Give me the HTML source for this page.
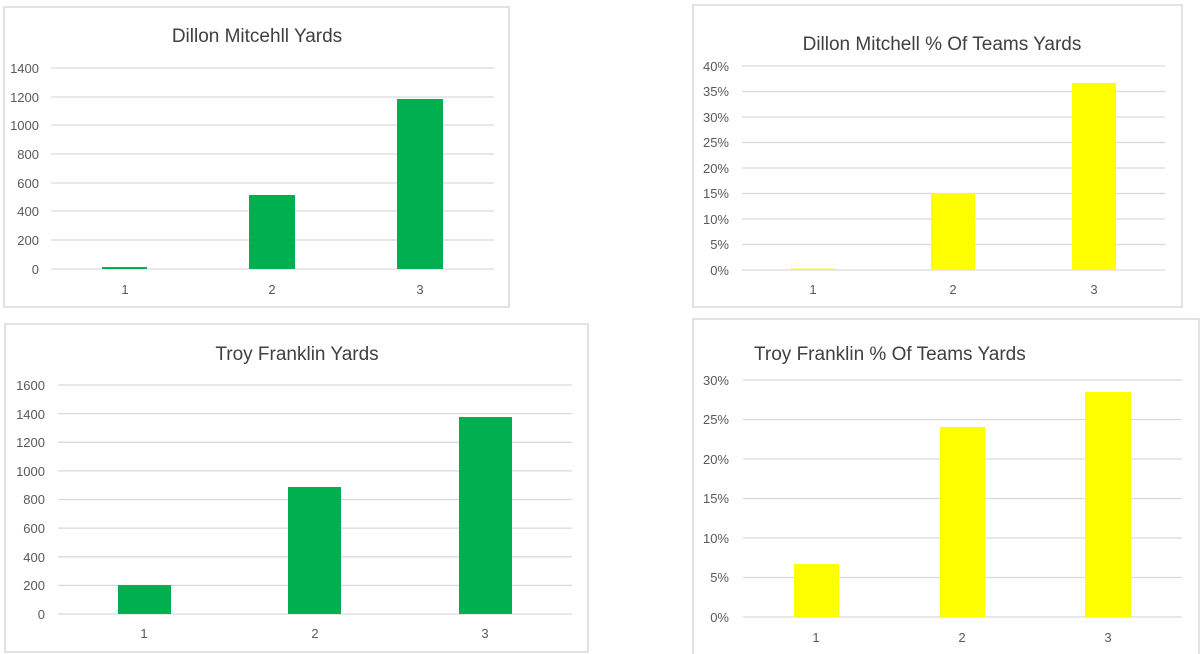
<!DOCTYPE html>
<html><head><meta charset="utf-8"><style>
html,body{margin:0;padding:0;background:#fff;}
svg{display:block;}
text{font-family:"Liberation Sans",sans-serif;fill:#595959;}
.t{font-size:13px;}
.ti{font-size:19px;fill:#404040;}
.g{stroke:#d9d9d9;stroke-width:1.3;}
.b{fill:#fff;stroke:#d9d9d9;stroke-width:1.5;}
</style></head><body>
<svg width="1200" height="654" viewBox="0 0 1200 654">
<!-- Chart 1 -->
<rect class="b" x="4" y="7" width="505" height="300"/>
<text class="ti" x="257" y="42" text-anchor="middle">Dillon Mitcehll Yards</text>
<g class="g">
<line x1="51" x2="494" y1="68" y2="68"/><line x1="51" x2="494" y1="97" y2="97"/><line x1="51" x2="494" y1="125" y2="125"/><line x1="51" x2="494" y1="154" y2="154"/><line x1="51" x2="494" y1="183" y2="183"/><line x1="51" x2="494" y1="211" y2="211"/><line x1="51" x2="494" y1="240" y2="240"/><line x1="51" x2="494" y1="269" y2="269"/>
</g>
<g class="t" text-anchor="end">
<text x="39" y="73">1400</text><text x="39" y="102">1200</text><text x="39" y="130">1000</text><text x="39" y="159">800</text><text x="39" y="188">600</text><text x="39" y="216">400</text><text x="39" y="245">200</text><text x="39" y="274">0</text>
</g>
<g fill="#00b050"><rect x="102" y="267" width="45" height="2"/><rect x="249" y="195" width="46" height="74"/><rect x="397" y="99" width="46" height="170"/></g>
<g class="t" text-anchor="middle"><text x="125" y="294">1</text><text x="272" y="294">2</text><text x="420" y="294">3</text></g>

<!-- Chart 2 -->
<rect class="b" x="693" y="5" width="489" height="302"/>
<text class="ti" x="942" y="50" text-anchor="middle">Dillon Mitchell % Of Teams Yards</text>
<g class="g">
<line x1="742" x2="1165" y1="66" y2="66"/><line x1="742" x2="1165" y1="91.5" y2="91.5"/><line x1="742" x2="1165" y1="117" y2="117"/><line x1="742" x2="1165" y1="142.5" y2="142.5"/><line x1="742" x2="1165" y1="168" y2="168"/><line x1="742" x2="1165" y1="193.5" y2="193.5"/><line x1="742" x2="1165" y1="219" y2="219"/><line x1="742" x2="1165" y1="244.5" y2="244.5"/><line x1="742" x2="1165" y1="270" y2="270"/>
</g>
<g class="t" text-anchor="end">
<text x="729" y="71">40%</text><text x="729" y="96">35%</text><text x="729" y="122">30%</text><text x="729" y="147">25%</text><text x="729" y="173">20%</text><text x="729" y="198">15%</text><text x="729" y="224">10%</text><text x="729" y="249">5%</text><text x="729" y="275">0%</text>
</g>
<g fill="#ffff00"><rect x="791" y="268.5" width="44" height="1.5"/><rect x="931" y="193" width="44" height="77"/><rect x="1072" y="83" width="44" height="187"/></g>
<g class="t" text-anchor="middle"><text x="813" y="294">1</text><text x="953" y="294">2</text><text x="1094" y="294">3</text></g>

<!-- Chart 3 -->
<rect class="b" x="5" y="324" width="583" height="328"/>
<text class="ti" x="297" y="360" text-anchor="middle">Troy Franklin Yards</text>
<g class="g">
<line x1="58" x2="572" y1="385" y2="385"/><line x1="58" x2="572" y1="413.6" y2="413.6"/><line x1="58" x2="572" y1="442.3" y2="442.3"/><line x1="58" x2="572" y1="470.9" y2="470.9"/><line x1="58" x2="572" y1="499.5" y2="499.5"/><line x1="58" x2="572" y1="528.1" y2="528.1"/><line x1="58" x2="572" y1="556.8" y2="556.8"/><line x1="58" x2="572" y1="585.4" y2="585.4"/><line x1="58" x2="572" y1="614" y2="614"/>
</g>
<g class="t" text-anchor="end">
<text x="45" y="390">1600</text><text x="45" y="419">1400</text><text x="45" y="447">1200</text><text x="45" y="476">1000</text><text x="45" y="504">800</text><text x="45" y="533">600</text><text x="45" y="562">400</text><text x="45" y="590">200</text><text x="45" y="619">0</text>
</g>
<g fill="#00b050"><rect x="118" y="585" width="53" height="29"/><rect x="288" y="487" width="53" height="127"/><rect x="459" y="417" width="53" height="197"/></g>
<g class="t" text-anchor="middle"><text x="144" y="638">1</text><text x="315" y="638">2</text><text x="485" y="638">3</text></g>

<!-- Chart 4 -->
<rect class="b" x="693" y="319" width="506" height="340"/>
<text class="ti" x="754" y="360">Troy Franklin % Of Teams Yards</text>
<g class="g">
<line x1="743" x2="1182" y1="380" y2="380"/><line x1="743" x2="1182" y1="419.5" y2="419.5"/><line x1="743" x2="1182" y1="459" y2="459"/><line x1="743" x2="1182" y1="498.5" y2="498.5"/><line x1="743" x2="1182" y1="538" y2="538"/><line x1="743" x2="1182" y1="577.5" y2="577.5"/><line x1="743" x2="1182" y1="617" y2="617"/>
</g>
<g class="t" text-anchor="end">
<text x="729" y="385">30%</text><text x="729" y="424">25%</text><text x="729" y="464">20%</text><text x="729" y="503">15%</text><text x="729" y="543">10%</text><text x="729" y="582">5%</text><text x="729" y="622">0%</text>
</g>
<g fill="#ffff00"><rect x="794" y="564" width="45" height="53"/><rect x="940" y="427" width="45" height="190"/><rect x="1085" y="392" width="46" height="225"/></g>
<g class="t" text-anchor="middle"><text x="816" y="642">1</text><text x="962" y="642">2</text><text x="1108" y="642">3</text></g>
</svg>
</body></html>
